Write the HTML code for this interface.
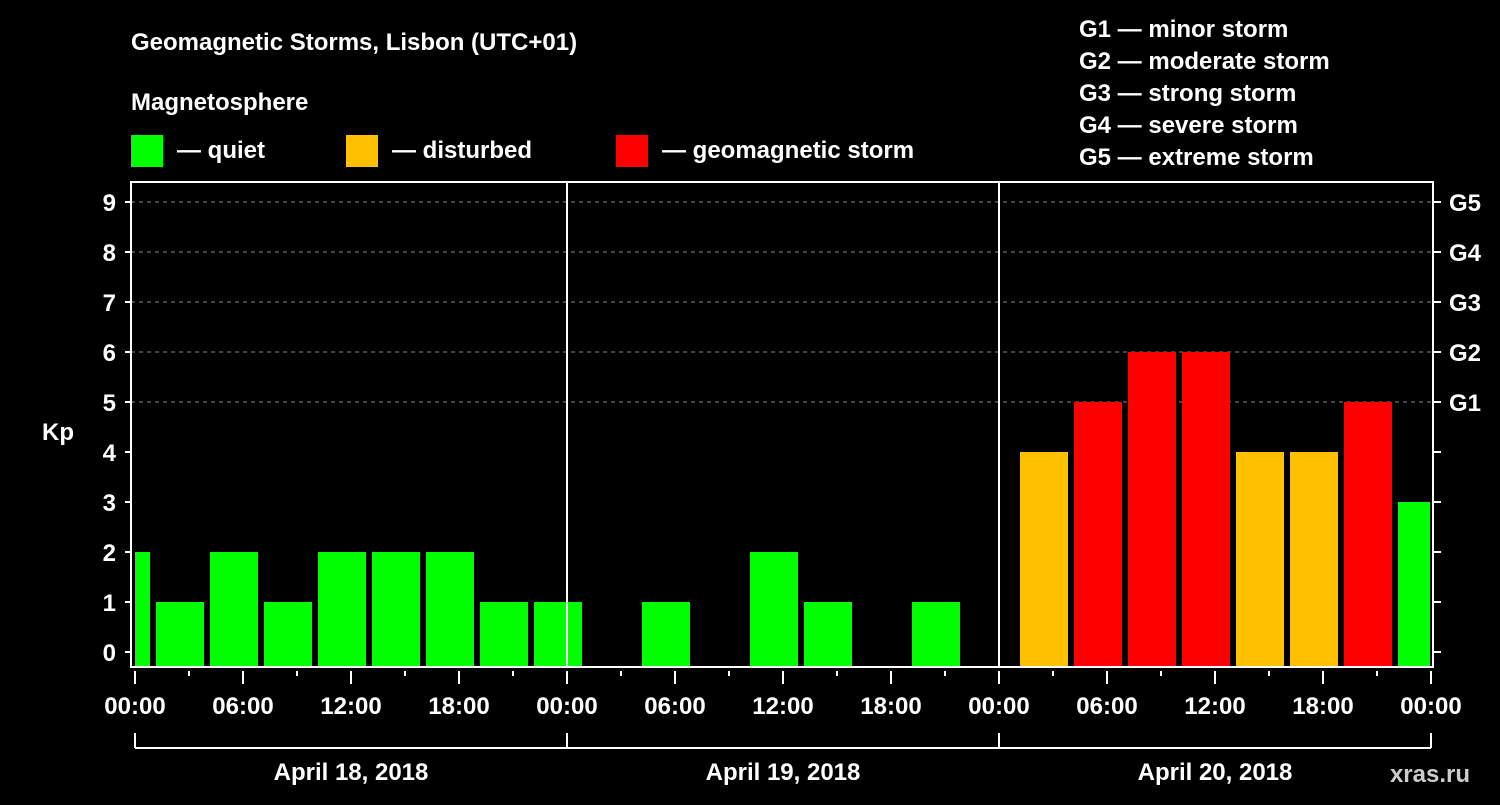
<!DOCTYPE html>
<html><head><meta charset="utf-8"><style>
body{margin:0;background:#000;width:1500px;height:800px;overflow:hidden}
text{font-family:"Liberation Sans",Arial,sans-serif;font-weight:bold;fill:#fff}
</style></head><body>
<svg id="chart" width="1500" height="800" xmlns="http://www.w3.org/2000/svg">
<rect width="1500" height="800" fill="#000"/>
<text x="131" y="50" font-size="24">Geomagnetic Storms, Lisbon (UTC+01)</text>
<text x="131" y="110" font-size="24">Magnetosphere</text>
<rect x="131" y="135" width="32" height="32" fill="#00ff00"/>
<text x="177" y="158" font-size="24">— quiet</text>
<rect x="346" y="135" width="32" height="32" fill="#ffc000"/>
<text x="392" y="158" font-size="24">— disturbed</text>
<rect x="616" y="135" width="32" height="32" fill="#ff0000"/>
<text x="662" y="158" font-size="24">— geomagnetic storm</text>
<g font-size="24">
<text x="1079" y="37">G1 — minor storm</text>
<text x="1079" y="69">G2 — moderate storm</text>
<text x="1079" y="101">G3 — strong storm</text>
<text x="1079" y="133">G4 — severe storm</text>
<text x="1079" y="165">G5 — extreme storm</text>
</g>
<text x="42" y="440" font-size="24">Kp</text>
<text x="1470" y="782" font-size="24" text-anchor="end" fill="#ccc" style="fill:#ccc">xras.ru</text>
<g id="plot"></g>
</svg>
<script>
const dayLabels=["April 18, 2018","April 19, 2018","April 20, 2018"];
const kpValues=[2,1,2,1,2,2,2,1,1,0,1,0,2,1,0,1,0,4,5,6,6,4,4,5,3];
const barStartHours=[-2,1,4,7,10,13,16,19,22,25,28,31,34,37,40,43,46,49,52,55,58,61,64,67,70];
const yTicks=[0,1,2,3,4,5,6,7,8,9];
const gLabels=["G1","G2","G3","G4","G5"];
const gLevels=[5,6,7,8,9];
const xTickLabels=["00:00","06:00","12:00","18:00","00:00","06:00","12:00","18:00","00:00","06:00","12:00","18:00","00:00"];

const L=131,R=1433,T=182,B=667,X0=135,HX=18;
const x=h=>X0+h*HX;
const y=v=>652-v*50;
const NS="http://www.w3.org/2000/svg";
const g=document.getElementById('plot');
function mk(t,a){const e=document.createElementNS(NS,t);for(const k in a)e.setAttribute(k,a[k]);g.appendChild(e);return e;}
function col(v){return v>=5?"#ff0000":v===4?"#ffc000":"#00ff00";}
// grid
gLevels.forEach((v,i)=>{
 const l=mk('line',{x1:L,x2:R,y1:y(v),y2:y(v),stroke:'#888','stroke-dasharray':'4,4','stroke-width':1});
 
 
 const t=mk('text',{x:1449,y:y(v)+9,'font-size':24});
 t.textContent=gLabels[i];
 
 
});
// bars
kpValues.forEach((v,i)=>{
 let x1=x(barStartHours[i])+3,x2=x1+48;
 x1=Math.max(x1,L+4);x2=Math.min(x2,R-3);
 if(v<=0||x2<=x1)return;
 const r=mk('rect',{x:x1,y:y(v),width:x2-x1,height:B-y(v),fill:col(v)});
 
 
});
// day separators
[1,2].forEach(d=>{const l=mk('line',{x1:x(d*24),x2:x(d*24),y1:T,y2:B,stroke:'#fff','stroke-width':2});
 
 });
// frame
const f=mk('rect',{x:L,y:T,width:R-L,height:B-T,fill:'none',stroke:'#fff','stroke-width':2});


// y ticks
yTicks.forEach(v=>{
 mk('line',{x1:L-6,x2:L,y1:y(v),y2:y(v),stroke:'#fff','stroke-width':2});
 mk('line',{x1:R,x2:R+8,y1:y(v),y2:y(v),stroke:'#fff','stroke-width':2});
 const t=mk('text',{x:116,y:y(v)+9,'font-size':24,'text-anchor':'end'});
 t.textContent=v;
 
 
});
// x ticks
for(let h=0;h<=72;h+=3){
 const maj=h%6===0;
 mk('line',{x1:x(h),x2:x(h),y1:B+4,y2:B+(maj?17:9),stroke:'#fff','stroke-width':2});
}
xTickLabels.forEach((s,i)=>{
 const t=mk('text',{x:x(i*6),y:714,'font-size':24,'text-anchor':'middle'});
 t.textContent=s;
 
 
});
// bracket
mk('line',{x1:x(0),x2:x(72),y1:748,y2:748,stroke:'#fff','stroke-width':2});
for(let d=0;d<=3;d++)mk('line',{x1:x(d*24),x2:x(d*24),y1:733,y2:748,stroke:'#fff','stroke-width':2});
dayLabels.forEach((s,i)=>{
 const t=mk('text',{x:x(i*24+12),y:780,'font-size':24,'text-anchor':'middle'});
 t.textContent=s;
 
 
});
</script>
</body></html>
